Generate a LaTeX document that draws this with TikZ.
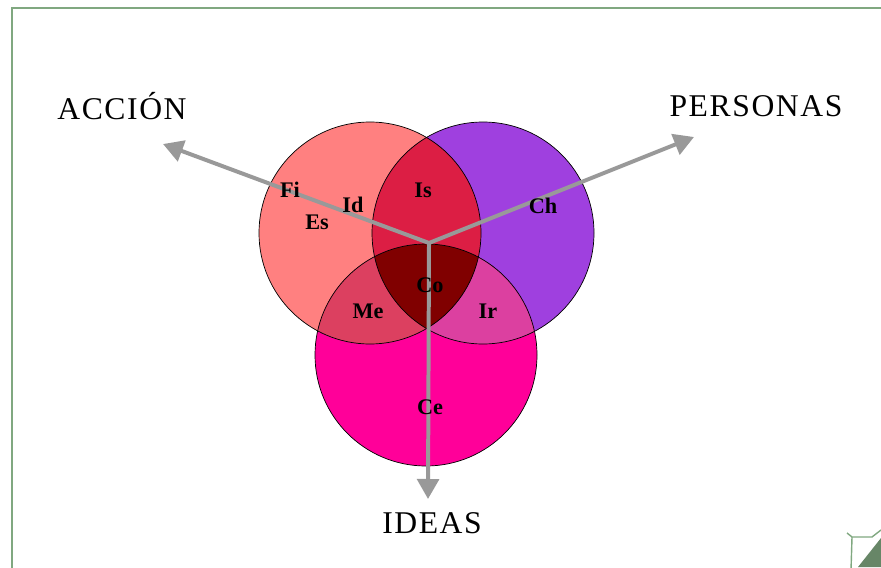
\documentclass[tikz,border=0pt]{standalone}
\usepackage{fontspec}
\setmainfont{Liberation Serif}
\newfontfamily\axisfont[LetterSpace=5]{Liberation Serif}
\usetikzlibrary{positioning,arrows.meta}

\definecolor{acccol}{HTML}{FF8080}
\definecolor{percol}{HTML}{9F40DF}
\definecolor{idecol}{HTML}{FF0099}
\definecolor{apcol}{HTML}{DC1E44}
\definecolor{aicol}{HTML}{DC4060}
\definecolor{picol}{HTML}{DC40A0}
\definecolor{allcol}{HTML}{800000}
\definecolor{framecol}{HTML}{80A880}
\definecolor{axiscol}{HTML}{999999}

\begin{document}
\begin{tikzpicture}[
  x=0.03cm, y=-0.03cm,
  axis/.style={font=\axisfont\fontsize{27}{32}\selectfont},
  zone/.style={font=\bfseries\fontsize{19}{22}\selectfont},
  arrow/.style={-{Triangle[length=6mm, width=6.5mm]}, line width=3.4pt, draw=axiscol},
  ring/.style={draw=black, line width=0.6pt}
]
\useasboundingbox (0,0) rectangle (881,567);
\clip (0,0) rectangle (881,567);

% Frame
\draw[framecol, line width=1.6pt] (900,8) -- (12,8) -- (12,590);
\draw[framecol, line width=1.2pt] (847,533) -- (852,537) -- (872,537) -- (881,530);
\draw[framecol, line width=1.2pt] (852,537) -- (851,570);
\fill[framecol!80!black] (858,567) -- (881,538) -- (881,567) -- cycle;

% Centres
\coordinate (acc) at (370,233);
\coordinate (per) at (483,233);
\coordinate (ide) at (426,355);
\def\rad{3.33cm}

% Circles
\fill[acccol] (acc) circle (\rad);
\fill[percol] (per) circle (\rad);
\fill[idecol] (ide) circle (\rad);
\begin{scope}
  \clip (acc) circle (\rad);
  \fill[apcol] (per) circle (\rad);
  \fill[aicol] (ide) circle (\rad);
\end{scope}
\begin{scope}
  \clip (per) circle (\rad);
  \fill[picol] (ide) circle (\rad);
\end{scope}
\begin{scope}
  \clip (acc) circle (\rad);
  \clip (per) circle (\rad);
  \fill[allcol] (ide) circle (\rad);
\end{scope}
\draw[ring] (acc) circle (\rad);
\draw[ring] (per) circle (\rad);
\draw[ring] (ide) circle (\rad);

% Nodes
\coordinate (hub) at (429,243);
\coordinate (acctip) at (163,144);
\coordinate (pertip) at (694,137);
\coordinate (idetip) at (428,499);
\node[axis] (accion) at (122,106) {ACCIÓN};
\node[axis] (personas) at (756,106) {PERSONAS};
\node[axis] (ideas) at (432,523) {IDEAS};

% Arrows
\draw[arrow] (hub) -- (acctip);
\draw[arrow] (hub) -- (pertip);
\draw[arrow] (hub) -- (idetip);

% Zones
\node[zone] (fi) at (290,190) {Fi};
\node[zone] (id) at (353,205) {Id};
\node[zone] (es) at (317,222) {Es};
\node[zone] (is) at (423,190) {Is};
\node[zone] (ch) at (543,206) {Ch};
\node[zone] (co) at (430,285) {Co};
\node[zone] (me) at (368,311) {Me};
\node[zone] (ir) at (488,311) {Ir};
\node[zone] (ce) at (430,407) {Ce};
\end{tikzpicture}
\end{document}
